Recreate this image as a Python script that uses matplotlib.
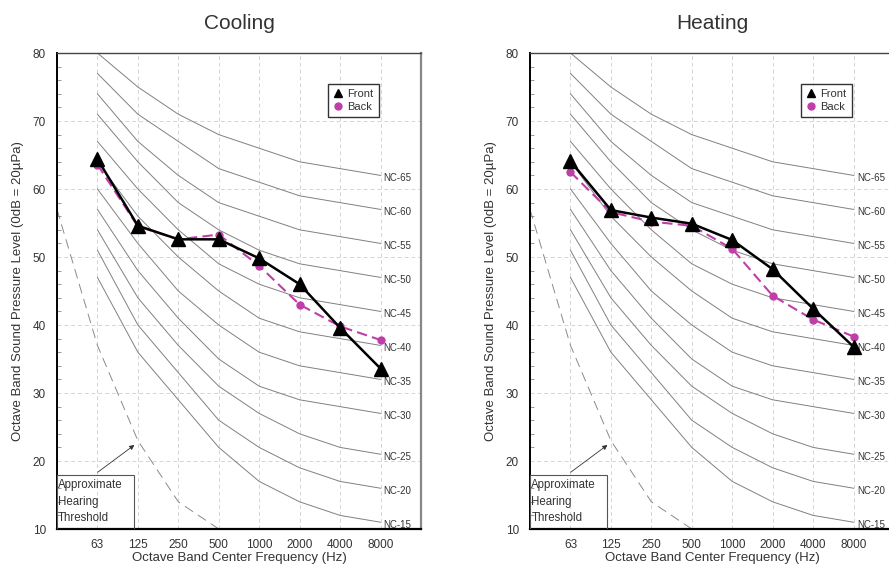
import numpy as np
import matplotlib
matplotlib.use("Agg")
import matplotlib.pyplot as plt

# ── data ──────────────────────────────────────────────────────────────────────
FREQS = ["63", "125", "250", "500", "1000", "2000", "4000", "8000"]

COOL_FRONT = [64.4, 54.6, 52.6, 52.6, 49.8, 46.0, 39.6, 33.6]
COOL_BACK  = [63.6, 54.5, 52.6, 53.3, 48.7, 43.0, 39.8, 37.8]
HEAT_FRONT = [64.1, 56.9, 55.8, 54.9, 52.5, 48.2, 42.4, 36.8]
HEAT_BACK  = [62.5, 56.6, 55.2, 54.6, 51.2, 44.3, 40.8, 38.3]

NC_NAMES = ["NC-15", "NC-20", "NC-25", "NC-30", "NC-35", "NC-40",
            "NC-45", "NC-50", "NC-55", "NC-60", "NC-65"]
NC_LEVELS = [
    [47, 36, 29, 22, 17, 14, 12, 11],
    [51, 40, 33, 26, 22, 19, 17, 16],
    [54, 44, 37, 31, 27, 24, 22, 21],
    [57, 48, 41, 35, 31, 29, 28, 27],
    [60, 52, 45, 40, 36, 34, 33, 32],
    [64, 56, 50, 45, 41, 39, 38, 37],
    [67, 60, 54, 49, 46, 44, 43, 42],
    [71, 64, 58, 54, 51, 49, 48, 47],
    [74, 67, 62, 58, 56, 54, 53, 52],
    [77, 71, 67, 63, 61, 59, 58, 57],
    [80, 75, 71, 68, 66, 64, 63, 62],
]

# hearing threshold from 31.5 Hz (one octave left of 63) to 500 Hz
THRESH_POS = [-1, 0, 1, 2, 3]
THRESH_DB  = [57, 37, 23, 14, 10]

FONT = ["Liberation Sans", "DejaVu Sans"]
TXT = "#333333"
MAGENTA = "#c03ea8"

plt.rcParams["font.family"] = FONT


def draw_panel(ax, title, front, back):
    x = np.arange(len(FREQS))

    ax.set_xlim(-1, 8)
    ax.set_ylim(10, 80)

    # grid
    for xv in x:
        ax.axvline(xv, color="#d4d4d4", ls=(0, (4, 3)), lw=0.7, zorder=0)
    for yv in range(20, 80, 10):
        ax.axhline(yv, color="#d4d4d4", ls=(0, (4, 3)), lw=0.7, zorder=0)

    # NC curves
    for name, lv in zip(NC_NAMES, NC_LEVELS):
        ax.plot(x, lv, color="#808080", lw=0.7, zorder=1)
        ax.text(7.08, lv[-1] - 0.4, name, fontsize=7, color=TXT,
                va="center", ha="left")

    # hearing threshold
    ax.plot(THRESH_POS, THRESH_DB, color="#8a8a8a", lw=0.7,
            ls=(0, (10, 6)), zorder=1)
    ax.annotate("", xy=(0.97, 22.6), xytext=(-0.05, 18.1),
                arrowprops=dict(arrowstyle="-|>", color="#333333", lw=0.6,
                                mutation_scale=7))
    ax.text(-0.97, 17.3, "Approximate\nHearing\nThreshold", fontsize=8.3,
            color=TXT, va="top", ha="left", linespacing=1.5)
    box = plt.Rectangle((-1, 10), 1.9, 7.9, fill=False, ec="#555555", lw=0.8,
                        zorder=3)
    ax.add_patch(box)

    # measured spectra
    ax.plot(x, back, color=MAGENTA, lw=1.5, ls=(0, (5, 2.5)), marker="o",
            ms=5, zorder=4, label="_nolegend_")
    ax.plot(x, front, color="black", lw=1.8, marker="^", ms=9.5, zorder=5,
            label="_nolegend_")
    ax.plot([], [], ls="none", marker="^", color="black", ms=6, label="Front")
    ax.plot([], [], ls="none", marker="o", color=MAGENTA, ms=5, label="Back")
    leg = ax.legend(loc="upper left", bbox_to_anchor=(0.745, 0.935),
                    fontsize=8, frameon=True, fancybox=False,
                    handlelength=0.8, handletextpad=0.5, borderpad=0.45,
                    labelspacing=0.3, borderaxespad=0)
    leg.get_frame().set_edgecolor("black")
    leg.get_frame().set_linewidth(1.0)
    for t in leg.get_texts():
        t.set_color(TXT)

    # axes styling
    ax.set_xticks(x)
    ax.set_xticklabels(FREQS)
    ax.tick_params(axis="x", length=0, labelsize=8.5, labelcolor=TXT, pad=7)
    ax.set_yticks(range(10, 81, 10))
    ax.set_yticks(range(10, 81, 2), minor=True)
    ax.tick_params(axis="y", which="major", length=0, labelsize=8.5,
                   labelcolor=TXT, pad=8)
    ax.tick_params(axis="y", which="minor", direction="in", length=3,
                   color="#888888", width=0.6)
    ax.spines["left"].set_linewidth(1.4)
    ax.spines["left"].set_color("black")
    ax.spines["bottom"].set_linewidth(1.6)
    ax.spines["bottom"].set_color("black")
    ax.spines["top"].set_linewidth(1.0)
    ax.spines["top"].set_color("#444444")
    ax.spines["right"].set_linewidth(1.6)
    ax.spines["right"].set_color("#888888")

    ax.set_xlabel("Octave Band Center Frequency (Hz)", fontsize=9.5,
                  color=TXT, labelpad=1)
    ax.set_ylabel("Octave Band Sound Pressure Level (0dB = 20µPa)",
                  fontsize=9.5, color=TXT, labelpad=6)
    ax.set_title(title, fontsize=15, color=TXT, pad=17)


fig = plt.figure(figsize=(8.89, 5.67), dpi=100)
ax1 = fig.add_axes([0.0641, 0.067, 0.4094, 0.8395])
ax2 = fig.add_axes([0.5962, 0.067, 0.4094, 0.8395])

draw_panel(ax1, "Cooling", COOL_FRONT, COOL_BACK)
draw_panel(ax2, "Heating", HEAT_FRONT, HEAT_BACK)

fig.savefig("out.png", dpi=100)
plt.close(fig)
